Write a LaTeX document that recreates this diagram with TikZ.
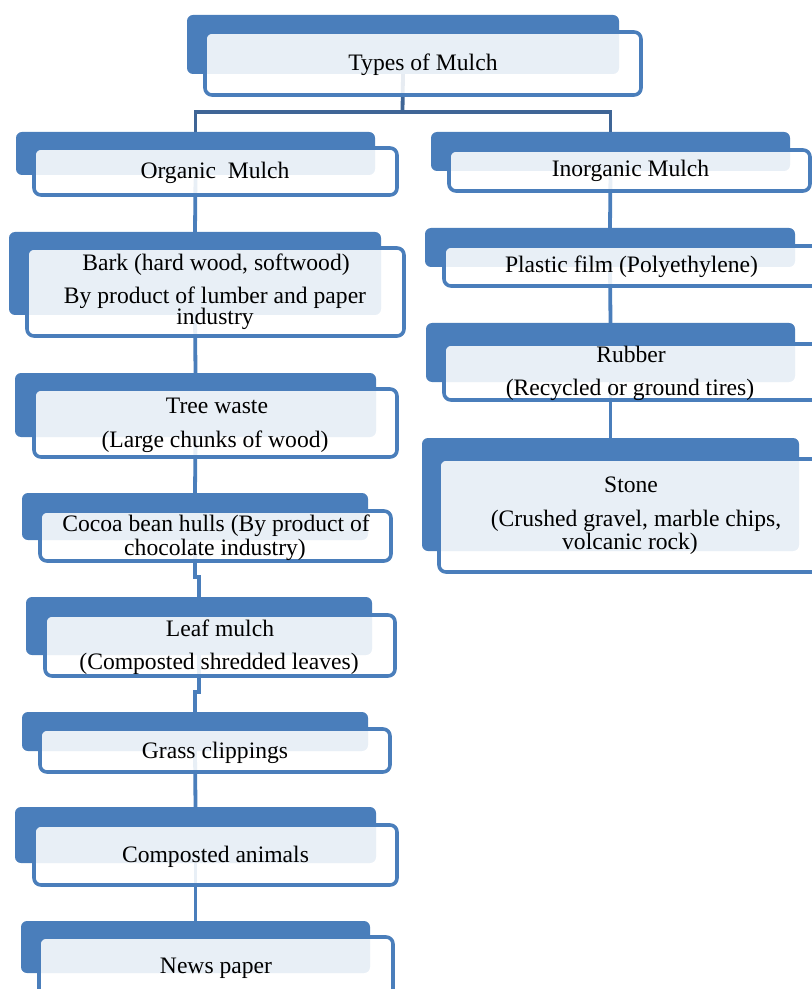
\documentclass[tikz,border=0pt]{standalone}
\usepackage{fontspec}
\setmainfont{Liberation Serif}
\usetikzlibrary{backgrounds}
\definecolor{mblue}{RGB}{74,126,187}
\definecolor{mdark}{RGB}{63,101,150}
\tikzset{
  backbox/.style={rectangle, rounded corners=3pt, fill=mblue, draw=none, inner sep=0pt, outer sep=0pt},
  frontbox/.style={rectangle, rounded corners=3.5pt, fill=white, fill opacity=0.88, draw=mblue, draw opacity=1, line width=1.8pt, inner sep=0pt, outer sep=0pt},
  txt/.style={anchor=base, inner sep=0pt, font=\fontsize{11.8pt}{14pt}\selectfont, text=black},
  link/.style={draw=mblue, line width=1.9pt},
  toplink/.style={draw=mdark, line width=1.9pt}
}
\newcommand\mulchbox[9]{%
  \node[backbox, minimum width={(#4-#2)*0.5pt}, minimum height={(#5-#3)*0.5pt}] (#1b) at ({(#2+#4)/2},{(#3+#5)/2}) {};
  \node[frontbox, minimum width={(#8-#6)*0.5pt}, minimum height={(#9-#7)*0.5pt}] (#1) at ({(#6+#8)/2},{(#7+#9)/2}) {};
}
\begin{document}
\begin{tikzpicture}[x=0.5pt, y=-0.5pt]
\useasboundingbox (0,0) rectangle (812,989);
\clip (0,0) rectangle (812,989);
% boxes
\mulchbox{types}{187}{15}{619}{74}{205}{32}{641}{95}
\mulchbox{organic}{16}{132}{375}{175}{34}{148}{397}{195}
\mulchbox{inorganic}{431}{132}{790}{171}{449}{150}{810}{191}
\mulchbox{bark}{9}{232}{381}{315}{27}{248}{404}{336}
\mulchbox{tree}{15}{373}{376}{437}{34}{389}{397}{457}
\mulchbox{cocoa}{22}{493}{368}{540}{40}{511}{391}{561}
\mulchbox{leaf}{26}{597}{372}{655}{45}{615}{395}{676}
\mulchbox{grass}{22}{712}{368}{751}{40}{729}{390}{772}
\mulchbox{compost}{15}{807}{376}{863}{34}{825}{397}{885}
\mulchbox{news}{21}{921}{370}{973}{39}{937}{393}{1010}
\mulchbox{plastic}{425}{228}{795}{267}{444}{246}{821}{286}
\mulchbox{rubber}{426}{323}{795}{382}{444}{344}{821}{400}
\mulchbox{stone}{422}{438}{799}{551}{439}{459}{822}{572}
% texts
\node[txt] (typesT) at (423,71) {Types of Mulch};
\node[txt] (organicT) at (215,179) {Organic\ \ Mulch};
\node[txt] (inorganicT) at (630.5,177) {Inorganic Mulch};
\node[txt] (barkT1) at (216,271) {Bark (hard wood, softwood)};
\node[txt] (barkT2) at (215,304) {By product of lumber and paper};
\node[txt] (barkT3) at (215,325) {industry};
\node[txt] (treeT1) at (217,413) {Tree waste};
\node[txt] (treeT2) at (215,447) {(Large chunks of wood)};
\node[txt] (cocoaT1) at (216,531) {Cocoa bean hulls (By product of};
\node[txt] (cocoaT2) at (215,555) {chocolate industry)};
\node[txt] (leafT1) at (220,636) {Leaf mulch};
\node[txt] (leafT2) at (219,669) {(Composted shredded leaves)};
\node[txt] (grassT) at (215,758) {Grass clippings};
\node[txt] (compostT) at (215.5,862) {Composted animals};
\node[txt] (newsT) at (216,973) {News paper};
\node[txt] (plasticT) at (631.5,273) {Plastic film (Polyethylene)};
\node[txt] (rubberT1) at (631,362) {Rubber};
\node[txt] (rubberT2) at (630,395) {(Recycled or ground tires)};
\node[txt] (stoneT1) at (631,492) {Stone};
\node[txt] (stoneT2) at (636,526) {(Crushed gravel, marble chips,};
\node[txt] (stoneT3) at (630,549) {volcanic rock)};
% connectors
\coordinate (split) at (402.5,112);
\coordinate (j1) at (199,577);
\coordinate (j2) at (195,692);
\begin{pgfonlayer}{background}
\draw[toplink] (typesb.south) -- (split);
\draw[toplink] (organicb.north) |- (split) -| (inorganicb.north);
\draw[link] (organicb.south) -- (barkb.north);
\draw[link] (barkb.south) -- (treeb.north);
\draw[link] (treeb.south) -- (cocoab.north);
\draw[link] (cocoab.south) |- (j1) -- (leafb.north);
\draw[link] (leafb.south) |- (j2) -- (grassb.north);
\draw[link] (grassb.south) -- (compostb.north);
\draw[link] (compostb.south) -- (newsb.north);
\draw[link] (inorganicb.south) -- (plasticb.north);
\draw[link] (plasticb.south) -- (rubberb.north);
\draw[link] (rubberb.south) -- (stoneb.north);
\end{pgfonlayer}
\end{tikzpicture}
\end{document}
